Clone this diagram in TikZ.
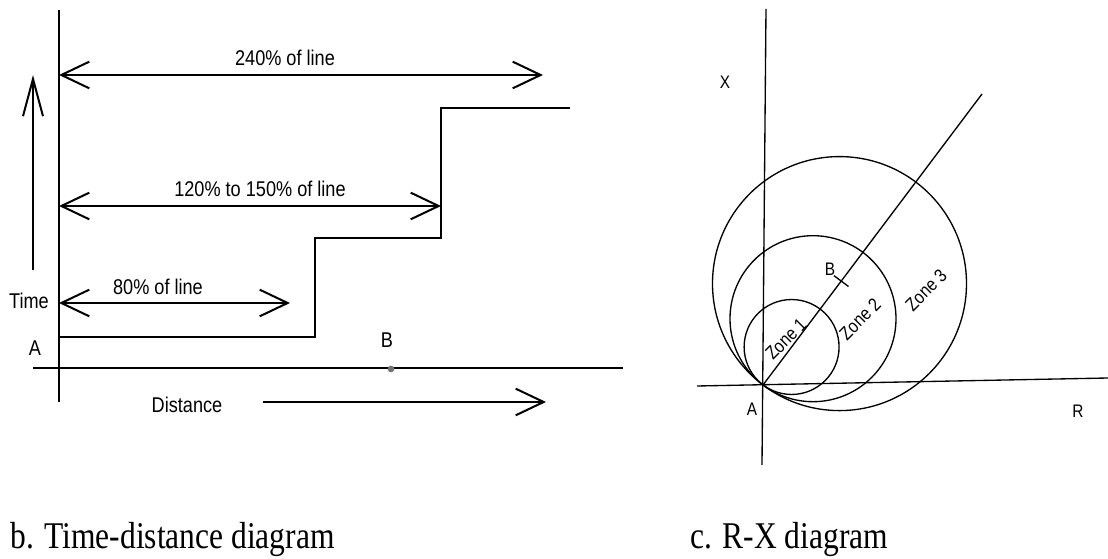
\documentclass[tikz,border=0pt]{standalone}
\usepackage{fontspec}
\setmainfont{Liberation Sans}
\newfontfamily\capfont{Liberation Serif}
\usetikzlibrary{arrows.meta,calc}
\newcommand{\nrw}[2][0.85]{\scalebox{#1}[1]{#2}}
\begin{document}
\begin{tikzpicture}[x=0.75pt,y=-0.75pt,
  thick line/.style={line width=1.5pt},
  thin line/.style={line width=1pt},
  barb/.style={line width=1.5pt,-{Straight Barb[length=21pt,width=20pt]}},
  dbarb/.style={line width=1.5pt,{Straight Barb[length=21pt,width=20pt]}-{Straight Barb[length=21pt,width=20pt]}},
  upbarb/.style={line width=1.5pt,-{Straight Barb[length=28pt,width=15pt]}},
  lbl/.style={font=\fontsize{16}{18}\selectfont, inner sep=0pt},
  rlbl/.style={font=\fontsize{13.6}{15}\selectfont, inner sep=0pt},
  zlbl/.style={font=\fontsize{14}{16}\selectfont, inner sep=0pt, rotate=45},
  captext/.style={font=\capfont\fontsize{28.3}{32}\selectfont, inner sep=0pt, anchor=base west}]
\useasboundingbox (0,0) rectangle (1108,559);
% ---------- left: time-distance diagram ----------
\coordinate (vt) at (59,10);
\coordinate (vb) at (59,402);
\coordinate (hl) at (33,368);
\coordinate (hr) at (623,368);
\draw[thick line] (vt) -- (vb);
\draw[thick line] (hl) -- (hr);
\node[circle, fill=black!55, inner sep=0pt, minimum size=5pt] (Bdot) at (391,369) {};
\coordinate (up0) at (33,270);
\coordinate (up1) at (33,75);
\draw[upbarb] (up0) -- (up1);
% reach arrows
\coordinate (r3a) at (59,75);  \coordinate (r3b) at (543,75);
\coordinate (r2a) at (59,206); \coordinate (r2b) at (441,206);
\coordinate (r1a) at (59,303); \coordinate (r1b) at (290,303);
\draw[dbarb] (r3a) -- (r3b);
\draw[dbarb] (r2a) -- (r2b);
\draw[dbarb] (r1a) -- (r1b);
\node[lbl] (l240) at (285,58) {\nrw{240\% of line}};
\node[lbl] (l120) at (260,189) {\nrw{120\% to 150\% of line}};
\node[lbl] (l80)  at (158,287) {\nrw{80\% of line}};
% step characteristic
\coordinate (s0) at (59,337);
\coordinate (s1) at (315,337);
\coordinate (s2) at (315,238);
\coordinate (s3) at (441,238);
\coordinate (s4) at (441,108);
\coordinate (s5) at (570,108);
\draw[thick line] (s0) -- (s1) -- (s2) -- (s3) -- (s4) -- (s5);
\node[lbl] (time) at (29,301) {\nrw{Time}};
\node[lbl] (la) at (35,348) {\nrw{A}};
\node[lbl] (lb) at (387,340) {\nrw{B}};
\node[lbl] (dist) at (187,405) {\nrw{Distance}};
\coordinate (d0) at (263,402);
\coordinate (d1) at (546,402);
\draw[barb] (d0) -- (d1);
\node[captext] (capb) at (10,549) {\nrw[0.835]{b. Time-distance diagram}};
% ---------- right: R-X diagram ----------
\coordinate (A0) at (763,385);
\coordinate (xt) at (766,9);
\coordinate (xb) at (762,465);
\coordinate (rl) at (697,386);
\coordinate (rr) at (1108,378);
\coordinate (diag) at (982,94);
\draw[thin line] (xt) -- (xb);
\draw[thin line] (rl) -- (rr);
\draw[thin line] (A0) -- (diag);
\draw[thin line] (791.6,347) circle[radius=35.6pt];
\draw[thin line] (813,318.7) circle[radius=62.25pt];
\draw[thin line] (839.5,283.6) circle[radius=95.25pt];
\coordinate (t0) at (834,275.7);
\coordinate (t1) at (848.5,286.5);
\draw[thin line] (t0) -- (t1);
\node[rlbl] (rb) at (830,269) {\nrw{B}};
\node[rlbl] (rx) at (725,82) {\nrw{X}};
\node[rlbl] (ra) at (752,409) {\nrw{A}};
\node[rlbl] (rR) at (1078,411) {\nrw{R}};
\node[zlbl] (z1) at (786,339) {\nrw{Zone 1}};
\node[zlbl] (z2) at (860,319) {\nrw{Zone 2}};
\node[zlbl] (z3) at (926,290) {\nrw{Zone 3}};
\node[captext] (capc) at (690,549) {\nrw[0.835]{c. R-X diagram}};
\end{tikzpicture}
\end{document}
